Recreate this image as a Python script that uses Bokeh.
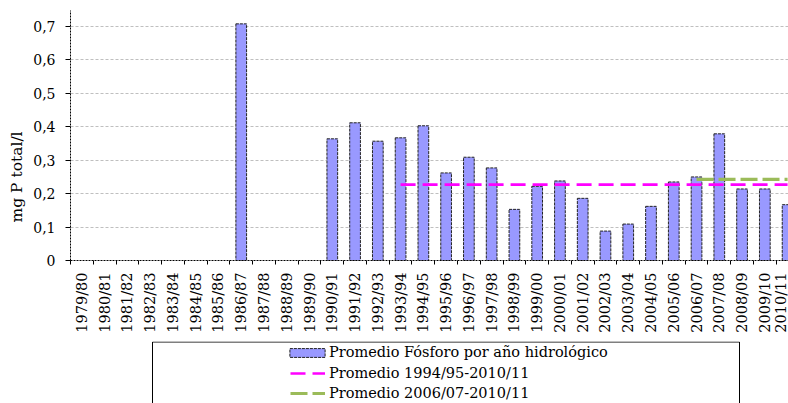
import numpy as np
from bokeh.plotting import figure
from bokeh.layouts import column
from bokeh.models import (Range1d, FixedTicker, Legend, LegendItem, Title, ColumnDataSource,
                          BoxAnnotation)
from bokeh.embed import file_html
from bokeh.resources import INLINE

categories = ["1979/80", "1980/81", "1981/82", "1982/83", "1983/84", "1984/85", "1985/86",
              "1986/87", "1987/88", "1988/89", "1989/90", "1990/91", "1991/92", "1992/93",
              "1993/94", "1994/95", "1995/96", "1996/97", "1997/98", "1998/99", "1999/00",
              "2000/01", "2001/02", "2002/03", "2003/04", "2004/05", "2005/06", "2006/07",
              "2007/08", "2008/09", "2009/10", "2010/11"]
fosforo = [None, None, None, None, None, None, None,
           0.708, None, None, None, 0.364, 0.412, 0.357,
           0.367, 0.403, 0.262, 0.309, 0.277, 0.153, 0.222,
           0.238, 0.186, 0.088, 0.109, 0.162, 0.235, 0.250,
           0.379, 0.214, 0.214, 0.167]
prom_1994_2011 = 0.227
prom_1994_start = "1993/94"
prom_2006_2011 = 0.243
prom_2006_start = "2006/07"
yticks = [0, 0.1, 0.2, 0.3, 0.4, 0.5, 0.6, 0.7]
ylabels = ["0", "0,1", "0,2", "0,3", "0,4", "0,5", "0,6", "0,7"]

FONT = "DejaVu Serif"
FS = "14.5px"
BAR_STYLE = dict(fill_color="#9999FF", line_color="#222222", line_dash="3 1", line_width=1)
L1_STYLE = dict(line_color="#FF00FF", line_width=2.6, line_dash="15 7")
L2_STYLE = dict(line_color="#9BBB59", line_width=3.2, line_dash="17 5")

n = len(categories)
centers = np.arange(n) + 0.5
has = [v is not None for v in fosforo]
bar_src = ColumnDataSource(dict(
    x=[c for c, h in zip(centers, has) if h],
    top=[v for v in fosforo if v is not None]))

i1 = categories.index(prom_1994_start)
i2 = categories.index(prom_2006_start)
l1 = ColumnDataSource(dict(x=list(centers[i1:]), y=[prom_1994_2011] * (n - i1)))
l2 = ColumnDataSource(dict(x=list(centers[i2:]), y=[prom_2006_2011] * (n - i2)))

p = figure(width=788, height=341, output_backend="svg", toolbar_location=None,
           x_range=Range1d(0, 31.54), y_range=Range1d(0, 0.748),
           min_border_left=70, min_border_right=0, min_border_top=10, min_border_bottom=81)
p.outline_line_color = None
p.xgrid.grid_line_color = None
p.ygrid.grid_line_color = "#BFBFBF"
p.ygrid.grid_line_dash = "3 2"
p.ygrid.ticker = FixedTicker(ticks=yticks)

p.vbar(x="x", top="top", width=0.47, source=bar_src, **BAR_STYLE)
p.line("x", "y", source=l1, **L1_STYLE)
p.line("x", "y", source=l2, **L2_STYLE)

# x axis
xa = p.xaxis[0]
xa.ticker = FixedTicker(ticks=list(centers), minor_ticks=list(np.arange(n + 1)))
xa.major_label_overrides = {float(c): lab for c, lab in zip(centers, categories)}
xa.major_label_orientation = np.pi / 2
xa.major_tick_out = 0
xa.major_tick_in = 0
xa.minor_tick_out = 4
xa.minor_tick_in = 0
xa.minor_tick_line_color = "black"
xa.major_label_standoff = 8
xa.axis_line_color = "black"
xa.axis_line_dash = "2 1"
xa.major_label_text_font = FONT
xa.major_label_text_font_size = FS
xa.major_label_text_color = "black"

# y axis
ya = p.yaxis[0]
ya.ticker = FixedTicker(ticks=yticks)
ya.major_label_overrides = {t: lab for t, lab in zip(yticks, ylabels)}
ya.major_tick_out = 5
ya.major_tick_in = 0
ya.minor_tick_line_color = None
ya.major_tick_line_color = "black"
ya.major_label_standoff = 10
ya.axis_line_color = "black"
ya.axis_line_dash = "2 1"
ya.major_label_text_font = FONT
ya.major_label_text_font_size = "14px"
ya.major_label_text_color = "black"

p.add_layout(Title(text="mg P total/l", align="left", offset=38, text_font=FONT,
                   text_font_size="15.5px", text_font_style="normal", text_color="black"), "left")

# legend panel: one data unit = one pixel; the shared data sources fall far outside its ranges
q = figure(width=788, height=62, output_backend="svg", toolbar_location=None,
           x_range=Range1d(70, 788), y_range=Range1d(1000, 1062), x_axis_type=None, y_axis_type=None,
           min_border_left=0, min_border_right=0, min_border_top=0, min_border_bottom=0)
q.outline_line_color = None
q.xgrid.grid_line_color = None
q.ygrid.grid_line_color = None

q.add_layout(BoxAnnotation(left=152, right=739, top=1061.5, bottom=980,
                           fill_color=None, fill_alpha=0, line_color="black",
                           line_alpha=1.0, line_width=1))

rb = q.vbar(x="x", top="top", width=0.47, source=bar_src, **BAR_STYLE)
r1 = q.line("x", "y", source=l1, **L1_STYLE)
r2 = q.line("x", "y", source=l2, **L2_STYLE)

leg_a = Legend(items=[LegendItem(label="Promedio Fósforo por año hidrológico", renderers=[rb])],
               location=(215, 41), padding=0, margin=0, spacing=0,
               glyph_width=44, glyph_height=11, label_standoff=0, label_height=20,
               border_line_color=None, background_fill_alpha=0,
               label_text_font=FONT, label_text_font_size=FS, label_text_color="black")
leg_b = Legend(items=[LegendItem(label="Promedio 1994/95-2010/11", renderers=[r1]),
                      LegendItem(label="Promedio 2006/07-2010/11", renderers=[r2])],
               location=(220, 0), padding=0, margin=0, spacing=0,
               glyph_width=35, glyph_height=20, label_standoff=4, label_height=20,
               border_line_color=None, background_fill_alpha=0,
               label_text_font=FONT, label_text_font_size=FS, label_text_color="black")
q.add_layout(leg_a)
q.add_layout(leg_b)

layout = column(p, q, spacing=0)
open("out.html", "w").write(file_html(layout, INLINE))
